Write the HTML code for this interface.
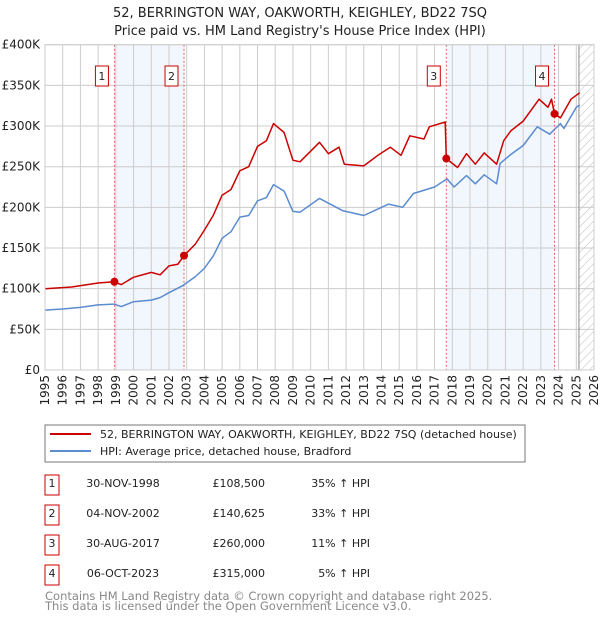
<!DOCTYPE html>
<html><head><meta charset="utf-8"><style>
body{margin:0;background:#fff;font-family:"Liberation Sans","DejaVu Sans",sans-serif;}
svg text{font-family:"DejaVu Sans","Liberation Sans",sans-serif;}
</style></head><body>
<svg id="c" width="600" height="620" xmlns="http://www.w3.org/2000/svg">
<defs><pattern id="hatch" width="6" height="6" patternUnits="userSpaceOnUse" patternTransform="rotate(45)"><line x1="0" y1="0" x2="0" y2="6" stroke="#bbb" stroke-width="1"/></pattern></defs>
<text x="300" y="17" text-anchor="middle" font-size="13" fill="#222">52, BERRINGTON WAY, OAKWORTH, KEIGHLEY, BD22 7SQ</text>
<text x="300" y="35" text-anchor="middle" font-size="13" fill="#222">Price paid vs. HM Land Registry's House Price Index (HPI)</text>
<g id="plot"></g>
<rect x="45" y="425" width="480" height="37" fill="#fff" stroke="#777"/>
<line x1="50" y1="434" x2="91" y2="434" stroke="#cc0000" stroke-width="2"/>
<text x="100" y="438" font-size="11" fill="#222">52, BERRINGTON WAY, OAKWORTH, KEIGHLEY, BD22 7SQ (detached house)</text>
<line x1="50" y1="451" x2="91" y2="451" stroke="#5b8bd0" stroke-width="2"/>
<text x="100" y="455" font-size="11" fill="#222">HPI: Average price, detached house, Bradford</text>
<g id="tbl" font-size="11" fill="#222"></g>
<text x="45" y="600" font-size="11.5" fill="#888">Contains HM Land Registry data © Crown copyright and database right 2025.</text>
<text x="45" y="610" font-size="11.5" fill="#888">This data is licensed under the Open Government Licence v3.0.</text>
</svg>
<script>
const hpiYears=[1995,1996,1997,1998,1998.9,1999.3,2000,2001,2001.5,2002,2002.8,2003.5,2004,2004.5,2005,2005.5,2006,2006.5,2007,2007.5,2007.9,2008.5,2009,2009.4,2010.5,2011.8,2013,2014.4,2015.2,2015.8,2017,2017.7,2018.1,2018.8,2019.3,2019.8,2020.5,2020.7,2021.3,2022,2022.8,2023.5,2024.1,2024.3,2025,2025.2];
const hpiValues=[73.6,75,77,80,81,78,84,86,89,95,104,115,125,140,162,170,188,190,208,212,228,220,195,194,211,196,190,204,200,217,225,235,225,239,229,240,229,254,265,276,299,290,303,297,323,326];
const ppYears=[1995,1996.5,1998,1998.9,1999.3,2000,2001,2001.5,2002,2002.5,2002.85,2003.5,2004,2004.5,2005,2005.5,2006,2006.5,2007,2007.5,2007.9,2008.5,2009,2009.4,2010.5,2011,2011.6,2011.9,2013,2013.8,2014.5,2015.1,2015.6,2016.4,2016.7,2017.6,2017.66,2018.3,2018.8,2019.3,2019.8,2020.5,2020.9,2021.3,2022,2022.9,2023.4,2023.6,2023.77,2024.1,2024.7,2025.2];
const ppValues=[100,102,107,108.5,105,114,120,117,128,130,140.6,155,172,190,215,222,245,250,275,282,303,292,258,256,280,266,274,253,251,264,274,264,288,284,299,305,260,249,266,253,267,253,282,294,306,333,323,333,315,310,333,341];
const saleYears=[1998.92,2002.85,2017.66,2023.77];
const saleValues=[108.5,140.625,260,315];
const saleLabels=["1","2","3","4"];
const yTicks=[0,50,100,150,200,250,300,350,400];
const yTickLabels=["£0","£50K","£100K","£150K","£200K","£250K","£300K","£350K","£400K"];
const xTicks=[1995,1996,1997,1998,1999,2000,2001,2002,2003,2004,2005,2006,2007,2008,2009,2010,2011,2012,2013,2014,2015,2016,2017,2018,2019,2020,2021,2022,2023,2024,2025,2026];
const tDates=["30-NOV-1998","04-NOV-2002","30-AUG-2017","06-OCT-2023"];
const tPrices=["£108,500","£140,625","£260,000","£315,000"];
const tHpi=["35% ↑ HPI","33% ↑ HPI","11% ↑ HPI","5% ↑ HPI"];

const NS="http://www.w3.org/2000/svg";
const L=45,R=594,T=44.7,B=370;
const X=y=>L+(y-1995)/(2026-1995)*(R-L);
const Y=v=>B-v/400*(B-T);
const g=document.getElementById('plot');
function el(t,a,p){const e=document.createElementNS(NS,t);for(const k in a)e.setAttribute(k,a[k]);(p||g).appendChild(e);return e;}
let s1=el('rect',{x:X(saleYears[0]),y:T,width:X(saleYears[1])-X(saleYears[0]),height:B-T,fill:'#edf2fc',opacity:0.7});


let s2=el('rect',{x:X(saleYears[2]),y:T,width:X(saleYears[3])-X(saleYears[2]),height:B-T,fill:'#edf2fc',opacity:0.7});


let hz=el('rect',{x:X(2025.15),y:T,width:R-X(2025.15),height:B-T,fill:'url(#hatch)'});


yTicks.forEach((v,i)=>{
 let ln=el('line',{x1:L,x2:R,y1:Y(v),y2:Y(v),stroke:'#ccc','stroke-width':1});
 
 
 let t=el('text',{x:40,y:Y(v)+4,'text-anchor':'end','font-size':12,fill:'#222'});
 t.textContent=yTickLabels[i];
 
 
});
xTicks.forEach(yr=>{
 let ln=el('line',{x1:X(yr),x2:X(yr),y1:T,y2:B,stroke:'#ccc','stroke-width':1});
 
 
 let t=el('text',{x:0,y:0,'text-anchor':'end','font-size':12,fill:'#222',transform:`translate(${X(yr)+4},${B+5}) rotate(-90)`});
 t.textContent=yr;
 
 
});
let nl=el('line',{x1:X(2025.15),x2:X(2025.15),y1:T,y2:B,stroke:'#888','stroke-width':1});


saleYears.forEach((yr,i)=>{
 let ln=el('line',{x1:X(yr),x2:X(yr),y1:T,y2:B,stroke:'#e06060','stroke-width':1,'stroke-dasharray':'2,2'});
 
 
});
function path(xs,vs,col,name){
 const d=xs.map((x,i)=>(i?'L':'M')+X(x).toFixed(1)+','+Y(vs[i]).toFixed(1)).join('');
 const p=el('path',{d:d,fill:'none',stroke:col,'stroke-width':1.5,'stroke-linejoin':'round'});
 
 
}
path(hpiYears,hpiValues,'#5b8bd0','hpi-line');
path(ppYears,ppValues,'#cc0000','property-price-line');
saleYears.forEach((yr,i)=>{
 let c=el('circle',{cx:X(yr),cy:Y(saleValues[i]),r:4,fill:'#cc0000'});
 
 
 let bx=el('rect',{x:X(yr)-19,y:66,width:13,height:20,fill:'#fff',stroke:'#cc0000','stroke-width':1});
 
 
 let t=el('text',{x:X(yr)-12.5,y:80,'text-anchor':'middle','font-size':11,fill:'#222'});
 t.textContent=saleLabels[i];
 
 
});
let fr=el('rect',{x:L,y:T,width:R-L,height:B-T,fill:'none',stroke:'#ccc'});


const tb=document.getElementById('tbl');
saleLabels.forEach((lab,i)=>{
 const cy=485+i*30;
 let b=el('rect',{x:45,y:cy-10,width:14,height:20,fill:'#fff',stroke:'#cc0000'},tb);
 
 
 let t=el('text',{x:52,y:cy+2,'text-anchor':'middle'},tb);t.textContent=lab;
 
 
 let d=el('text',{x:123,y:cy+2,'text-anchor':'middle'},tb);d.textContent=tDates[i];
 
 
 let p=el('text',{x:265,y:cy+2,'text-anchor':'end'},tb);p.textContent=tPrices[i];
 
 
 let h=el('text',{x:370,y:cy+2,'text-anchor':'end'},tb);h.textContent=tHpi[i];
 
 
});
</script>
</body></html>
